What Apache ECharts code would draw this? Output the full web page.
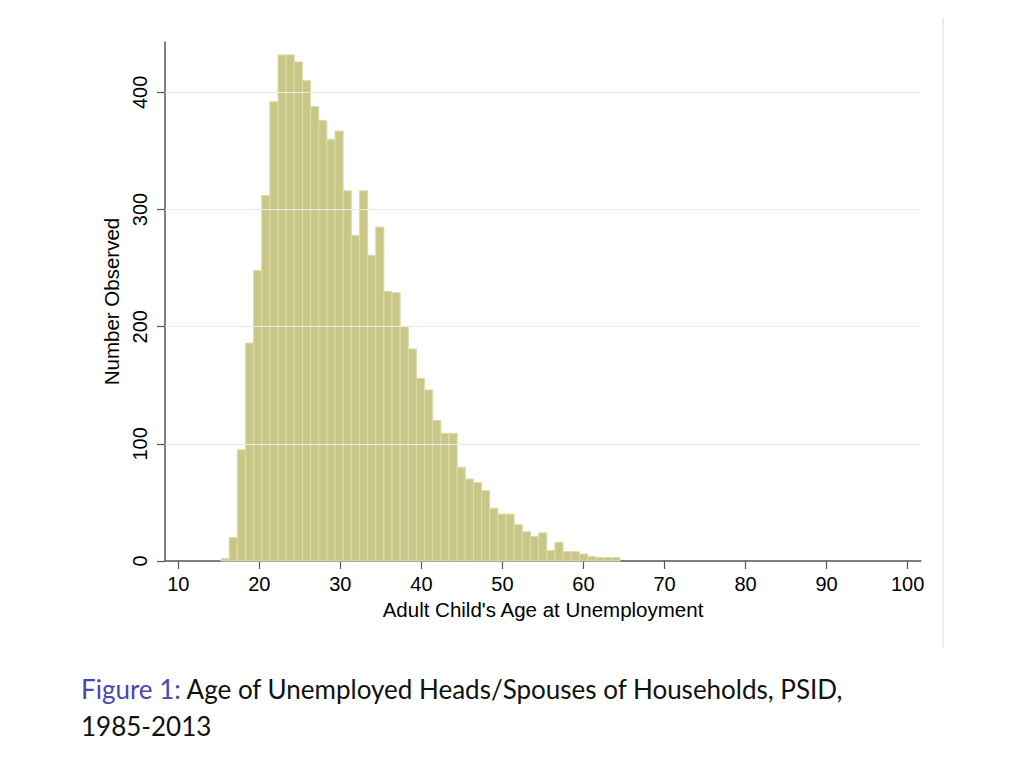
<!DOCTYPE html>
<html lang="en">
<head>
  <meta charset="UTF-8" />
  <title>Age of Unemployed Heads/Spouses of Households</title>
  <script src="https://cdn.jsdelivr.net/npm/echarts@6/dist/echarts.min.js"></script>
  <style>
    body { margin: 0; background: #fff; }
    #chart { width: 1024px; height: 769px; }
  </style>
</head>
<body>
  <div id="chart"></div>
  <script>
    // histogram counts, one bin per year of age
    const binStart = 15.27;
    const binWidth = 1.005;
    const counts = [
      2, 20, 95, 186, 248, 312, 392, 432, 432, 426,
      410, 388, 376, 360, 367, 316, 278, 316, 261, 285,
      230, 229, 200, 181, 156, 146, 120, 109, 109, 80,
      70, 67, 60, 45, 40, 40, 31, 25, 21, 24,
      9, 16, 8, 8, 6, 4, 3, 3, 3
    ];
    const xTicks = [10, 20, 30, 40, 50, 60, 70, 80, 90, 100];
    const yTicks = [0, 100, 200, 300, 400];
    const gridValues = [100, 200, 300, 400];

    const bins = counts.map((c, i) => [binStart + i * binWidth, binStart + (i + 1) * binWidth, c]);

    const chart = echarts.init(document.getElementById('chart'), null, { renderer: 'svg' });
    const axisFont = 'Liberation Sans, Arial, sans-serif';

    chart.setOption({
      backgroundColor: '#fff',
      animation: false,
      grid: { left: 165, right: 103, top: 42, bottom: 208 },
      xAxis: {
        type: 'value',
        min: 8.36,
        max: 101.65,
        name: "Adult Child's Age at Unemployment",
        nameLocation: 'middle',
        nameGap: 37,
        nameTextStyle: { fontFamily: axisFont, fontSize: 20.5, color: '#000' },
        axisLine: { show: true, onZero: false, lineStyle: { color: '#555', width: 1.5 } },
        axisTick: { show: true, customValues: xTicks, length: 8, lineStyle: { color: '#555', width: 1.2 } },
        axisLabel: { customValues: xTicks, margin: 13, fontFamily: axisFont, fontSize: 20, color: '#000' },
        splitLine: { show: false }
      },
      yAxis: {
        type: 'value',
        min: 0,
        max: 443,
        name: 'Number Observed',
        nameLocation: 'middle',
        nameGap: 38,
        nameTextStyle: { fontFamily: axisFont, fontSize: 20.5, color: '#000' },
        axisLine: { show: true, lineStyle: { color: '#555', width: 1.5 } },
        axisTick: { show: true, customValues: yTicks, length: 8, lineStyle: { color: '#555', width: 1.2 } },
        axisLabel: { customValues: yTicks, rotate: 90, margin: 15, fontFamily: axisFont, fontSize: 20, color: '#000' },
        splitLine: { show: false }
      },
      graphic: [
        {
          type: 'line',
          shape: { x1: 943, y1: 18, x2: 943, y2: 648 },
          style: { stroke: '#dcdcdc', lineWidth: 1 }
        },
        {
          type: 'text',
          left: 81,
          top: 670,
          style: {
            text: '{b|Figure 1:} Age of Unemployed Heads/Spouses of Households, PSID,\n1985-2013',
            fontFamily: 'Lato, Open Sans, sans-serif',
            fontSize: 26,
            lineHeight: 37,
            fill: '#111',
            rich: {
              b: { fill: '#4c46b4', fontFamily: 'Lato, Open Sans, sans-serif', fontSize: 26, lineHeight: 37 }
            }
          }
        }
      ],
      series: [
        {
          type: 'line',
          data: [],
          z: 1,
          markLine: {
            silent: true,
            symbol: 'none',
            label: { show: false },
            lineStyle: { color: '#e4eaee', width: 1, type: 'solid' },
            data: gridValues.map(v => ({ yAxis: v }))
          }
        },
        {
          type: 'custom',
          z: 2,
          data: bins,
          encode: { x: [0, 1], y: 2 },
          renderItem: function (params, api) {
            const p0 = api.coord([api.value(0), api.value(2)]);
            const p1 = api.coord([api.value(1), 0]);
            return {
              type: 'rect',
              shape: { x: p0[0], y: p0[1], width: p1[0] - p0[0], height: p1[1] - p0[1] },
              style: { fill: '#c9c787', stroke: '#dcdcaa', lineWidth: 1 }
            };
          }
        }
      ]
    });
  </script>
</body>
</html>
